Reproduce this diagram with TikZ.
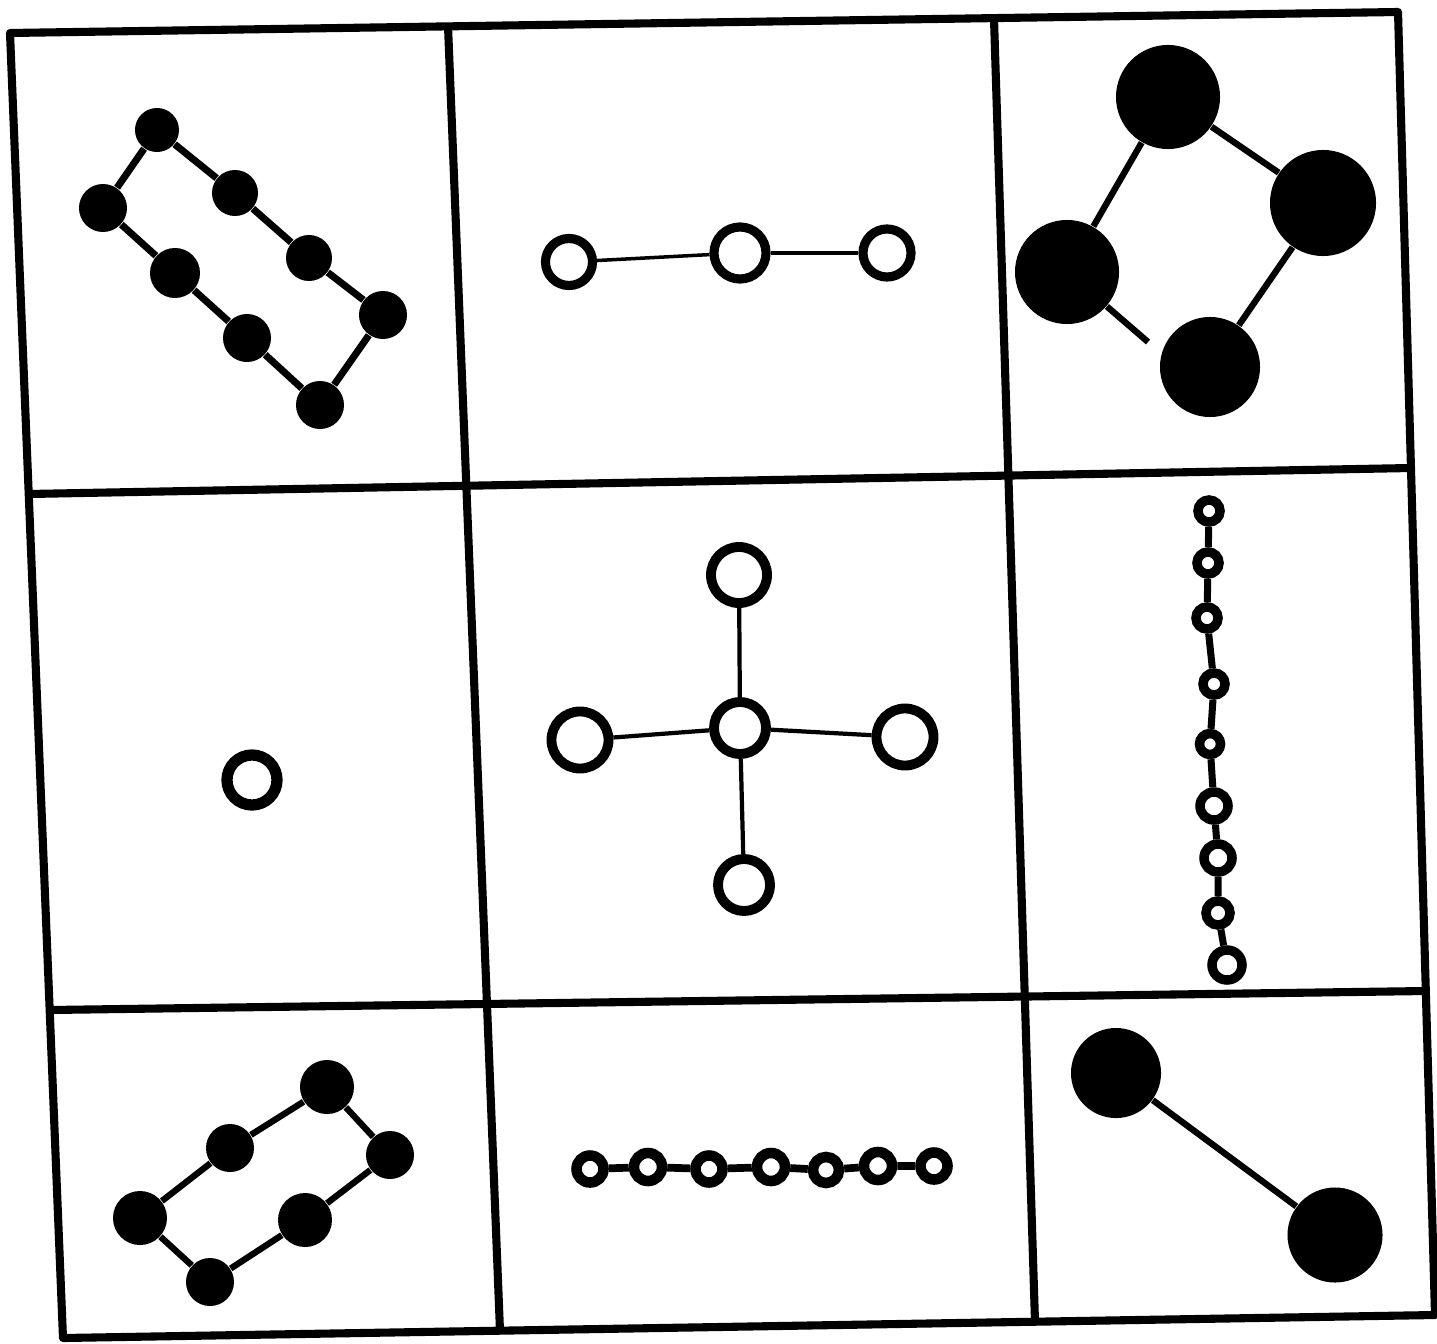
\documentclass[tikz,border=0pt]{standalone}
\usepackage{tikz}

\begin{document}
\begin{tikzpicture}[x=0.01cm, y=-0.01cm,
  frame/.style={line width=2.3pt, line join=round},
  atom/.style={circle, fill=black, inner sep=0pt, minimum size=#1},
  atom/.default=0.48cm,
  ring/.style={circle, draw=black, fill=white, line width=2.6pt, inner sep=0pt, minimum size=#1},
  ring/.default=0.48cm,
  bond/.style={line width=1.8pt},
  thinbond/.style={line width=1pt}]
  \useasboundingbox (0,0) rectangle (1437,1343);

  % Grid (hand drawn, a little skewed)
  \coordinate (tl) at (10,33);
  \coordinate (tr) at (1398,12);
  \coordinate (br) at (1435,1315);
  \coordinate (bl) at (63,1338);
  \draw[frame] (tl) -- (tr) -- (br) -- (bl) -- cycle;
  \draw[frame] (448,26) -- (500,1331);
  \draw[frame] (994,19) -- (1035,1322);
  \draw[frame] (29,494) -- (1411,468);
  \draw[frame] (50,1010) -- (1426,991);

  % Top left: ring of eight
  \node[atom=0.44cm] (a1) at (157,130) {};
  \node[atom=0.48cm] (a2) at (103,208) {};
  \node[atom=0.46cm] (a3) at (235,193) {};
  \node[atom=0.50cm] (a4) at (175,273) {};
  \node[atom=0.46cm] (a5) at (309,258) {};
  \node[atom=0.48cm] (a6) at (383,315) {};
  \node[atom=0.48cm] (a7) at (247,338) {};
  \node[atom=0.48cm] (a8) at (320,405) {};
  \draw[bond, line width=2pt] (a1) -- (a2) -- (a4) -- (a7) -- (a8) -- (a6) -- (a5) -- (a3) -- (a1);

  % Top middle: three open circles
  \node[ring=0.47cm] (s1) at (569,262) {};
  \node[ring=0.52cm] (s2) at (740,253) {};
  \node[ring=0.48cm] (s3) at (887,253) {};
  \draw[thinbond] (s1) -- (s2);
  \draw[thinbond] (s2) -- (s3);

  % Top right: four big atoms, one bond broken
  \node[atom=1.04cm] (q1) at (1168,97) {};
  \node[atom=1.06cm] (q2) at (1323,203) {};
  \node[atom=1.04cm] (q3) at (1067,272) {};
  \node[atom=1.00cm] (q4) at (1210,367) {};
  \coordinate (qgap) at (1148,342);
  \draw[bond] (q1) -- (q3);
  \draw[bond] (q1) -- (q2);
  \draw[bond] (q2) -- (q4);
  \draw[bond] (q3) -- (qgap);

  % Middle left: a single open circle
  \node[ring=0.50cm, line width=3.2pt] (lone) at (252,780) {};

  % Centre: cross of five
  \node[ring=0.56cm, line width=2.8pt] (up) at (739,575) {};
  \node[ring=0.52cm, line width=2.8pt] (hub) at (740,728) {};
  \node[ring=0.57cm, line width=2.8pt] (west) at (580,740) {};
  \node[ring=0.57cm, line width=2.8pt] (east) at (905,737) {};
  \node[ring=0.52cm, line width=2.8pt] (down) at (744,885) {};
  \draw[thinbond, line width=1.2pt] (hub) -- (up);
  \draw[thinbond, line width=1.2pt] (hub) -- (west);
  \draw[thinbond, line width=1.2pt] (hub) -- (east);
  \draw[thinbond, line width=1.2pt] (hub) -- (down);

  % Middle right: vertical chain of nine
  \node[ring=0.22cm, line width=2.7pt] (v1) at (1209,511) {};
  \node[ring=0.22cm, line width=2.7pt] (v2) at (1208,563) {};
  \node[ring=0.22cm, line width=2.7pt] (v3) at (1207,618) {};
  \node[ring=0.22cm, line width=2.7pt] (v4) at (1214,684) {};
  \node[ring=0.21cm, line width=2.7pt] (v5) at (1210,744) {};
  \node[ring=0.28cm, line width=2.7pt] (v6) at (1214,806) {};
  \node[ring=0.28cm, line width=2.7pt] (v7) at (1218,858) {};
  \node[ring=0.24cm, line width=2.7pt] (v8) at (1218,913) {};
  \node[ring=0.30cm, line width=2.7pt] (v9) at (1227,965) {};
  \draw[bond, line width=2pt] (v1) -- (v2) -- (v3) -- (v4) -- (v5) -- (v6) -- (v7) -- (v8) -- (v9);

  % Bottom left: ring of six
  \node[atom=0.54cm] (h1) at (327,1087) {};
  \node[atom=0.48cm] (h2) at (230,1148) {};
  \node[atom=0.48cm] (h3) at (390,1155) {};
  \node[atom=0.54cm] (h4) at (140,1218) {};
  \node[atom=0.54cm] (h5) at (305,1220) {};
  \node[atom=0.48cm] (h6) at (210,1282) {};
  \draw[bond] (h1) -- (h2) -- (h4) -- (h6) -- (h5) -- (h3) -- (h1);

  % Bottom middle: horizontal chain of seven
  \node[ring=0.27cm, line width=3pt] (c1) at (590,1169) {};
  \node[ring=0.28cm, line width=3pt] (c2) at (648,1167) {};
  \node[ring=0.27cm, line width=3pt] (c3) at (709,1169) {};
  \node[ring=0.28cm, line width=3pt] (c4) at (771,1167) {};
  \node[ring=0.26cm, line width=3pt] (c5) at (826,1170) {};
  \node[ring=0.28cm, line width=3pt] (c6) at (878,1166) {};
  \node[ring=0.27cm, line width=3pt] (c7) at (934,1166) {};
  \draw[bond, line width=2.2pt] (c1) -- (c2) -- (c3) -- (c4) -- (c5) -- (c6) -- (c7);

  % Bottom right: two big atoms
  \node[atom=0.90cm] (d1) at (1116,1073) {};
  \node[atom=0.95cm] (d2) at (1335,1235) {};
  \draw[bond] (d1) -- (d2);
\end{tikzpicture}
\end{document}
